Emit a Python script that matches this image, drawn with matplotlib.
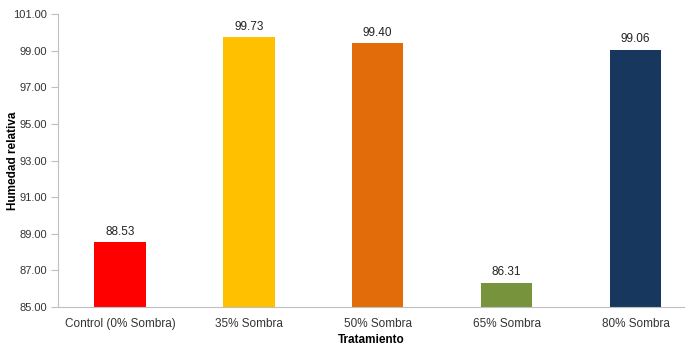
import matplotlib
matplotlib.use("Agg")
import matplotlib.pyplot as plt

categories = ["Control (0% Sombra)", "35% Sombra", "50% Sombra", "65% Sombra", "80% Sombra"]
values = [88.53, 99.73, 99.40, 86.31, 99.06]
colors = ["#FF0000", "#FFC000", "#E36C0A", "#77933C", "#17375E"]
yticks = [85, 87, 89, 91, 93, 95, 97, 99, 101]

plt.rcParams['font.family'] = ['Liberation Sans', 'DejaVu Sans']

fig = plt.figure(figsize=(6.93, 3.56), dpi=100)
ax = fig.add_axes([0.0837, 0.1376, 0.904, 0.823])
x = list(range(len(categories)))
bars = ax.bar(x, values, width=0.40, color=colors, bottom=0)
ax.set_ylim(85, 101)
ax.set_xlim(-0.48, 4.38)
ax.set_yticks(yticks)
ax.set_yticklabels([f"{v:.2f}" for v in yticks], fontsize=8, color="#333333")
ax.set_xticks(x)
ax.set_xticklabels(categories, fontsize=8.5, color="#333333")
for xi, v in zip(x, values):
    ax.text(xi, v + 0.25, f"{v:.2f}", ha="center", va="bottom", fontsize=8.5, color="#222222")
for s in ["top", "right"]:
    ax.spines[s].set_visible(False)
ax.spines["left"].set_color("#BFBFBF")
ax.spines["bottom"].set_color("#BFBFBF")
ax.tick_params(axis="y", length=5, color="#BFBFBF", pad=3)
ax.tick_params(axis="x", length=0, pad=8)
ax.set_ylabel("Humedad relativa", fontsize=8.5, fontweight="bold")
ax.yaxis.set_label_coords(-0.062, 0.5)
ax.set_xlabel("Tratamiento", fontsize=8.5, fontweight="bold", labelpad=3)
fig.savefig("out.png", dpi=100)
